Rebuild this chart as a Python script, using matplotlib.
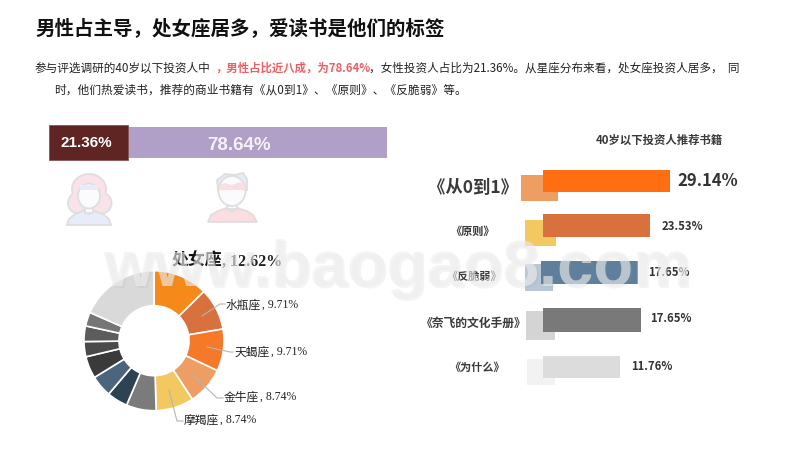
import matplotlib
matplotlib.use('Agg')
import matplotlib.pyplot as plt
from matplotlib.patches import Ellipse, Polygon, Rectangle

plt.rcParams['font.family'] = ['Noto Sans CJK SC', 'DejaVu Sans']

#############
### Daten ###
#############

title = '男性占主导，处女座居多，爱读书是他们的标签'
gender_labels = ['21.36%', '78.64%']
# drawn lengths
gender_lengths = [79, 259]
gender_colors = ['#5e2523', '#b09fc6']

star_values = [12.62, 9.71, 9.71, 8.74, 8.74, 6.9, 4.8, 5.0, 5.1, 3.5, 3.6, 3.2, 18.4]
star_colors = ['#f58a1a', '#d9713f', '#f47a2a', '#ee9d63', '#f3c860', '#7b7b7b', '#2d4253',
               '#4b657c', '#3a3a3a', '#4a4a4a', '#5c5c5c', '#767676', '#d9d9d9']
star_names = ['处女座', '水瓶座', '天蝎座', '金牛座', '摩羯座']
star_pcts = ['12.62%', '9.71%', '9.71%', '8.74%', '8.74%']

books = ['《从0到1》', '《原则》', '《反脆弱》', '《奈飞的文化手册》', '《为什么》']
book_labels = ['29.14%', '23.53%', '17.65%', '17.65%', '11.76%']
# bar lengths, they are not proportional to the labels
book_lengths = [127, 107, 97, 98, 77]
book_shadow = [37, 31, 28, 29, 28]
book_colors = ['#ff6f11', '#d9713f', '#5f7f9c', '#797979', '#dcdcdc']
shadow_colors = ['#ee9d63', '#f3c860', '#b7c7d6', '#d4d4d4', '#f2f2f2']

W, H = 800, 450
fig = plt.figure(figsize=(W / 100, H / 100), dpi=100)

# Donut first, everything else goes on a pixel axes on top of it
pie_ax = fig.add_axes([84 / W, 1 - 410.7 / H, 140 / W, 140 / H])
pie_ax.pie(star_values, colors=star_colors, startangle=90, counterclock=False, radius=1,
           wedgeprops=dict(width=0.5, edgecolor='white', linewidth=1.2))
pie_ax.set_xlim(-1, 1)
pie_ax.set_ylim(-1, 1)

top = fig.add_axes([0, 0, 1, 1])
top.set_xlim(0, W)
top.set_ylim(H, 0)
top.axis('off')

#############
### Texte ###
#############

top.text(35, 29, title, fontsize=14, fontweight='bold', color='#111111', va='center')

line1 = [('参与评选调研的40岁以下投资人中', '#222222', 'normal', 35, 8.4),
         ('，男性占比近八成，为78.64%', '#ee5f63', 'bold', 215, 8.2),
         ('，女性投资人占比为21.36%。从星座分布来看，处女座投资人居多，  同', '#222222', 'normal', 369, 8.35)]
for txt, col, weight, x, fs in line1:
  top.text(x, 68.5, txt, fontsize=fs, color=col, fontweight=weight, va='center')
top.text(54, 90, '时，他们热爱读书，推荐的商业书籍有《从0到1》、《原则》、《反脆弱》等。',
         fontsize=8.45, color='#222222', va='center')

##############
### Gender ###
##############

top.barh(142.5, gender_lengths[1], left=128, height=31, color=gender_colors[1])
top.barh(142.5, gender_lengths[0], left=49, height=35, color=gender_colors[0], edgecolor='#8a5452', linewidth=0.6)
top.text(86, 143, gender_labels[0], fontsize=11, fontweight='bold', color='white',
         ha='center', va='center', family='Liberation Sans')
top.text(239, 145, gender_labels[1], fontsize=13.5, fontweight='bold', color='#f5f0fa',
         ha='center', va='center', family='Liberation Sans')

# Icons
edge = '#dedede'
lw = 1.3
# woman
for xy, w, h in [((89, 189), 34, 30), ((77, 203), 18, 20), ((101, 203), 21, 21)]:
  top.add_patch(Ellipse(xy, w, h, fc='#f9e3e8', ec=edge, lw=lw))
top.add_patch(Ellipse((89, 192), 32, 28, fc='#f9e3e8', ec='none'))
top.add_patch(Rectangle((72, 195), 34, 14, fc='#f9e3e8', ec='none'))
top.add_patch(Polygon([[67, 225], [69, 219], [75, 214], [84, 211], [89, 214], [94, 211], [103, 214], [109, 219], [111, 225]],
                      closed=True, fc='#e8ebfa', ec=edge, lw=lw))
top.add_patch(Rectangle((85, 205), 8, 8, fc='#fbfafd', ec=edge, lw=lw))
top.add_patch(Ellipse((89, 196), 22, 25, fc='#fbfafd', ec=edge, lw=lw))
top.add_patch(Rectangle((80, 185), 18, 5, fc='#e8ebfa', ec='none'))
# man
top.add_patch(Polygon([[208, 222], [211, 215], [218, 211], [227, 208], [232, 212], [237, 208], [247, 211], [253, 215], [257, 222]],
                      closed=True, fc='#fbdde2', ec=edge, lw=lw))
top.add_patch(Rectangle((227, 201), 10, 8, fc='#fbfafd', ec=edge, lw=lw))
top.add_patch(Polygon([[218, 190], [217, 180], [225, 174], [235, 175], [243, 173], [247, 179], [247, 190]],
                      closed=True, fc='#e8ebfa', ec=edge, lw=lw))
top.add_patch(Ellipse((232, 191), 27, 30, fc='#fbfafd', ec=edge, lw=lw))
top.add_patch(Polygon([[219, 186], [224, 183], [232, 185], [240, 182], [245, 186], [245, 190], [219, 190]],
                      closed=True, fc='#fbdde2', ec='none'))

#############
### Donut ###
#############

top.text(172, 261, star_names[0], fontsize=12.2, fontweight='bold', color='#111111', va='center')
top.text(222, 262, ', ' + star_pcts[0], fontsize=11.5, fontweight='bold', family='Liberation Serif',
         color='#222222', va='center')

star_xy = [(226, 305), (235, 352), (224, 397), (184, 420)]
for (x, y), name, pct in zip(star_xy, star_names[1:], star_pcts[1:]):
  top.text(x, y, name, fontsize=8.5, color='#222222', va='center')
  top.text(x + 36, y, ', ' + pct, fontsize=8.5, family='Liberation Serif', color='#222222', va='center')

leaders = [[(202, 316), (220, 304), (225, 304)], [(207, 347), (230, 352), (233, 352)],
           [(193, 375), (217, 398), (223, 398)], [(169, 390), (177, 421), (183, 421)]]
for pts in leaders:
  top.plot([p[0] for p in pts], [p[1] for p in pts], color='#b5b5b5', lw=0.8)

#############
### Books ###
#############

rows = [(170, 192), (214, 237), (261, 284), (308, 332), (356, 378)]
shadow_rows = [(175, 201), (220, 246), (264, 291), (311, 340), (359, 385)]
shadow_x = [521, 525, 525, 526, 527]
bar_starts = [543, 543, 541, 543, 543]

for i in range(len(books)):
  y0, y1 = shadow_rows[i]
  top.barh((y0 + y1) / 2, book_shadow[i], left=shadow_x[i], height=y1 - y0, color=shadow_colors[i])
  y0, y1 = rows[i]
  top.barh((y0 + y1) / 2, book_lengths[i], left=bar_starts[i], height=y1 - y0, color=book_colors[i])

top.text(596, 140, '40岁以下投资人推荐书籍', fontsize=8.2, fontweight='bold', color='#3a3a3a', va='center')
name_pos = [(473, 188, 12.5), (472, 231.5, 8), (474, 276.5, 8), (473.5, 323, 8.5), (477, 367, 8)]
for name, (x, y, fs) in zip(books, name_pos):
  top.text(x, y, name, fontsize=fs, fontweight='bold', color='#3a3a3a', ha='center', va='center')
label_pos = [(677, 181, 12), (662, 226.5, 8.2), (648, 273, 8.2), (650, 318.5, 8.2), (631, 366.5, 8.2)]
for lab, (x, y, fs) in zip(book_labels, label_pos):
  top.text(x, y, lab, fontsize=fs, fontweight='bold', color='#333333', va='center')

#################
### Watermark ###
#################

top.text(399, 271, 'www.baogao8.com', fontsize=47, color='#9a9a9a', alpha=0.1, ha='center', va='center',
         family='Liberation Sans', fontweight='bold', zorder=9)
top.text(397, 269, 'www.baogao8.com', fontsize=47, color='#eeeeee', alpha=0.62, ha='center', va='center',
         family='Liberation Sans', fontweight='bold', zorder=10)

fig.savefig('out.png', dpi=100, facecolor='white')
